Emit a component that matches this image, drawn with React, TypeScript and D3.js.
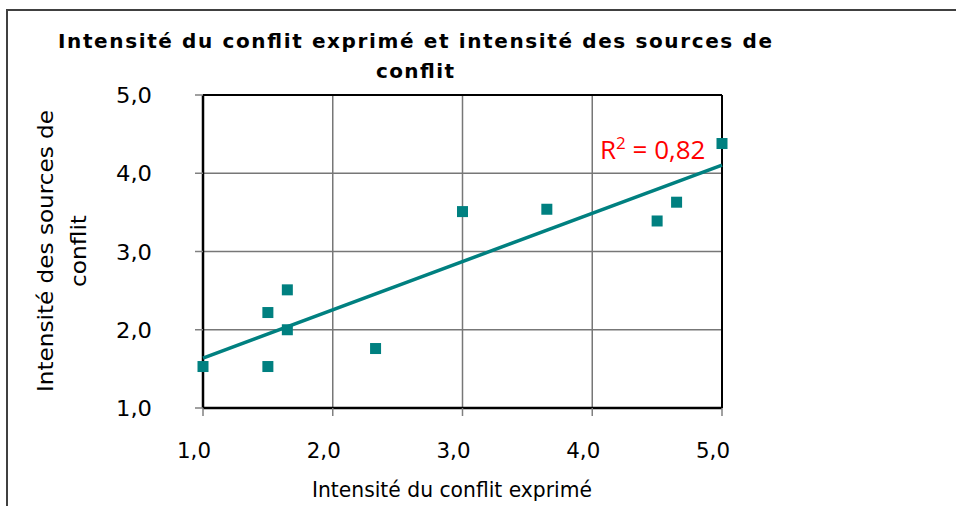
import React from "react";
import * as d3 from "d3";

const xValues = [1.0, 1.5, 1.65, 1.65, 1.5, 2.33, 3.0, 3.65, 4.5, 4.65, 5.0];
const yValues = [1.53, 2.22, 2.51, 2.0, 1.53, 1.76, 3.51, 3.54, 3.39, 3.63, 4.38];
const xTicks = [1, 2, 3, 4, 5];
const yTicks = [1, 2, 3, 4, 5];
const titleLines = ["Intensité du conflit exprimé et intensité des sources de", "conflit"];
const xTitle = "Intensité du conflit exprimé";
const yTitleLines = ["Intensité des sources de", "conflit"];
const r2Label = "0,82";

const W = 956;
const H = 506;
const TEAL = "#008080";
const FONT = "'DejaVu Sans', Verdana, sans-serif";

export default function App() {
  const x = d3.scaleLinear().domain([1, 5]).range([203, 722]);
  const y = d3.scaleLinear().domain([1, 5]).range([408, 95]);
  const fmt = (v: number) => d3.format(".1f")(v).replace(".", ",");

  const mx = d3.mean(xValues)!;
  const my = d3.mean(yValues)!;
  let sxy = 0, sxx = 0;
  xValues.forEach((xv, i) => {
    sxy += (xv - mx) * (yValues[i] - my);
    sxx += (xv - mx) * (xv - mx);
  });
  const slope = sxy / sxx;
  const intercept = my - slope * mx;
  const line = d3.line<number>().x((d) => x(d)).y((d) => y(intercept + slope * d));

  return (
    <svg width={W} height={H} style={{ position: "absolute", left: 0, top: 0 }}>
      <rect x={0} y={0} width={W} height={H} fill="#fff" />
      <rect x={7} y={10} width={W + 20} height={H + 20} fill="none" stroke="#404040" strokeWidth={2} />
      {/* title */}
      <text x={415} y={48} textAnchor="middle" fontFamily={FONT} fontWeight="bold" fontSize={20} fill="#000"
        textLength={714} lengthAdjust="spacing">
        {titleLines[0]}
      </text>
      <text x={415} y={78} textAnchor="middle" fontFamily={FONT} fontWeight="bold" fontSize={20} fill="#000"
        textLength={78} lengthAdjust="spacing">
        {titleLines[1]}
      </text>
      {/* grid */}
      {xTicks.slice(1, -1).map((t) => (
        <line key={"gx" + t} x1={x(t)} x2={x(t)} y1={y(5)} y2={y(1)} stroke="#777" strokeWidth={1.5} />
      ))}
      {yTicks.slice(1, -1).map((t) => (
        <line key={"gy" + t} x1={x(1)} x2={x(5)} y1={y(t)} y2={y(t)} stroke="#777" strokeWidth={1.5} />
      ))}
      {/* frame of plot */}
      <line x1={x(1)} x2={x(5)} y1={y(5)} y2={y(5)} stroke="#000" strokeWidth={2} />
      <line x1={x(5)} x2={x(5)} y1={y(5)} y2={y(1)} stroke="#000" strokeWidth={2} />
      <line x1={x(1)} x2={x(5)} y1={y(1)} y2={y(1)} stroke="#000" strokeWidth={2.5} />
      <line x1={x(1)} x2={x(1)} y1={y(5)} y2={y(1)} stroke="#000" strokeWidth={2.5} />
      {/* ticks */}
      {xTicks.map((t) => (
        <line key={"tx" + t} x1={x(t)} x2={x(t)} y1={y(1)} y2={y(1) + 8} stroke="#808080" strokeWidth={1.5} />
      ))}
      {yTicks.map((t) => (
        <line key={"ty" + t} x1={x(1) - 8} x2={x(1)} y1={y(t)} y2={y(t)} stroke="#808080" strokeWidth={1.5} />
      ))}
      {/* tick labels */}
      {xTicks.map((t) => (
        <text key={"lx" + t} x={x(t) - 9} y={458} textAnchor="middle" fontFamily={FONT} fontSize={22} fill="#000"
          textLength={34} lengthAdjust="spacingAndGlyphs">
          {fmt(t)}
        </text>
      ))}
      {yTicks.map((t) => (
        <text key={"ly" + t} x={152} y={y(t) + 8} textAnchor="end" fontFamily={FONT} fontSize={22} fill="#000"
          textLength={36} lengthAdjust="spacingAndGlyphs">
          {fmt(t)}
        </text>
      ))}
      {/* axis titles */}
      <text x={452} y={497} textAnchor="middle" fontFamily={FONT} fontSize={22} fill="#000"
        textLength={280} lengthAdjust="spacingAndGlyphs">
        {xTitle}
      </text>
      <text transform="translate(53,251) rotate(-90)" textAnchor="middle" fontFamily={FONT} fontSize={22} fill="#000"
        textLength={282} lengthAdjust="spacingAndGlyphs">
        {yTitleLines[0]}
      </text>
      <text transform="translate(86,251) rotate(-90)" textAnchor="middle" fontFamily={FONT} fontSize={22} fill="#000"
        textLength={72} lengthAdjust="spacingAndGlyphs">
        {yTitleLines[1]}
      </text>
      {/* trendline */}
      <path d={line([1, 5]) || ""} fill="none" stroke={TEAL} strokeWidth={3.5} />
      {/* points */}
      {xValues.map((xv, i) => (
        <rect key={"p" + i} x={x(xv) - 5.5} y={y(yValues[i]) - 5.5} width={11} height={11} fill={TEAL} />
      ))}
      {/* R2 */}
      <text x={600} y={159} fontFamily="'Open Sans', 'Noto Sans', sans-serif" fontSize={26} fill="#ff0000">
        R<tspan dy={-10} fontSize={17}>2</tspan>
        <tspan dy={10}>{" = " + r2Label}</tspan>
      </text>
    </svg>
  );
}
